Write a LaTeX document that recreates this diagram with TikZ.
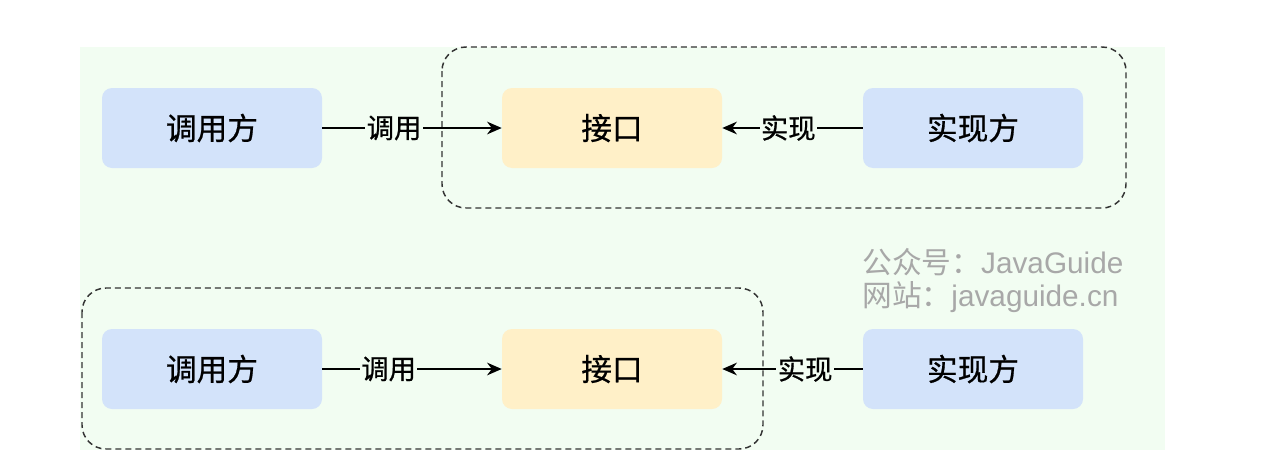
\documentclass[tikz,border=0pt]{standalone}
\usepackage{fontspec}
\setmainfont{Noto Sans CJK SC}
\newfontfamily\cjkmid{Noto Sans CJK SC}[FakeBold=0.7]
\newfontfamily\latinwm{Liberation Sans}
\usetikzlibrary{arrows.meta}
\definecolor{bggreen}{HTML}{F2FDF2}
\definecolor{roleblue}{HTML}{D3E3FA}
\definecolor{ifaceyellow}{HTML}{FFF0C8}
\definecolor{wmgray}{HTML}{A8A8A8}

\begin{document}
\begin{tikzpicture}[x=0.75pt,y=-0.75pt,
    role/.style={fill=roleblue,rounded corners=7.5pt,minimum width=165pt,minimum height=60pt,font=\cjkmid\fontsize{23}{27}\selectfont},
    iface/.style={role,fill=ifaceyellow},
    tag/.style={fill=bggreen,inner sep=1pt,font=\cjkmid\fontsize{20.5}{24}\selectfont},
    link/.style={line width=1.2pt,-{Stealth[length=11pt,width=9.5pt]}},
    group/.style={draw=black!80,dash pattern=on 4.5pt off 3pt,line width=1.1pt,rounded corners=18pt},
    wmark/.style={anchor=west,inner sep=0pt,text=wmgray,font=\fontsize{22.3}{26}\selectfont}]
    \fill[white] (0,0) rectangle (1270,468);
    \fill[bggreen] (80,47) rectangle (1165,450);
    \draw[group] (442,47) rectangle (1126,208);
    \draw[group] (82,288) rectangle (763,449);
    % upper row
    \node[role] (caller1) at (212,128) {调用方};
    \node[iface] (api1) at (612,128) {接口};
    \node[role] (impl1) at (973,128) {实现方};
    \draw[link] (caller1) -- node[tag,pos=0.4] {调用} (api1);
    \draw[link] (impl1) -- node[tag,pos=0.53] {实现} (api1);
    % lower row
    \node[role] (caller2) at (212,369) {调用方};
    \node[iface] (api2) at (612,369) {接口};
    \node[role] (impl2) at (973,369) {实现方};
    \draw[link] (caller2) -- node[tag,pos=0.37] {调用} (api2);
    \draw[link] (impl2) -- node[tag,pos=0.41] {实现} (api2);
    \node[wmark] (wm1) at (862,262) {公众号：{\latinwm JavaGuide}};
    \node[wmark] (wm2) at (862,297) {网站：{\latinwm javaguide.cn}};
\end{tikzpicture}
\end{document}
